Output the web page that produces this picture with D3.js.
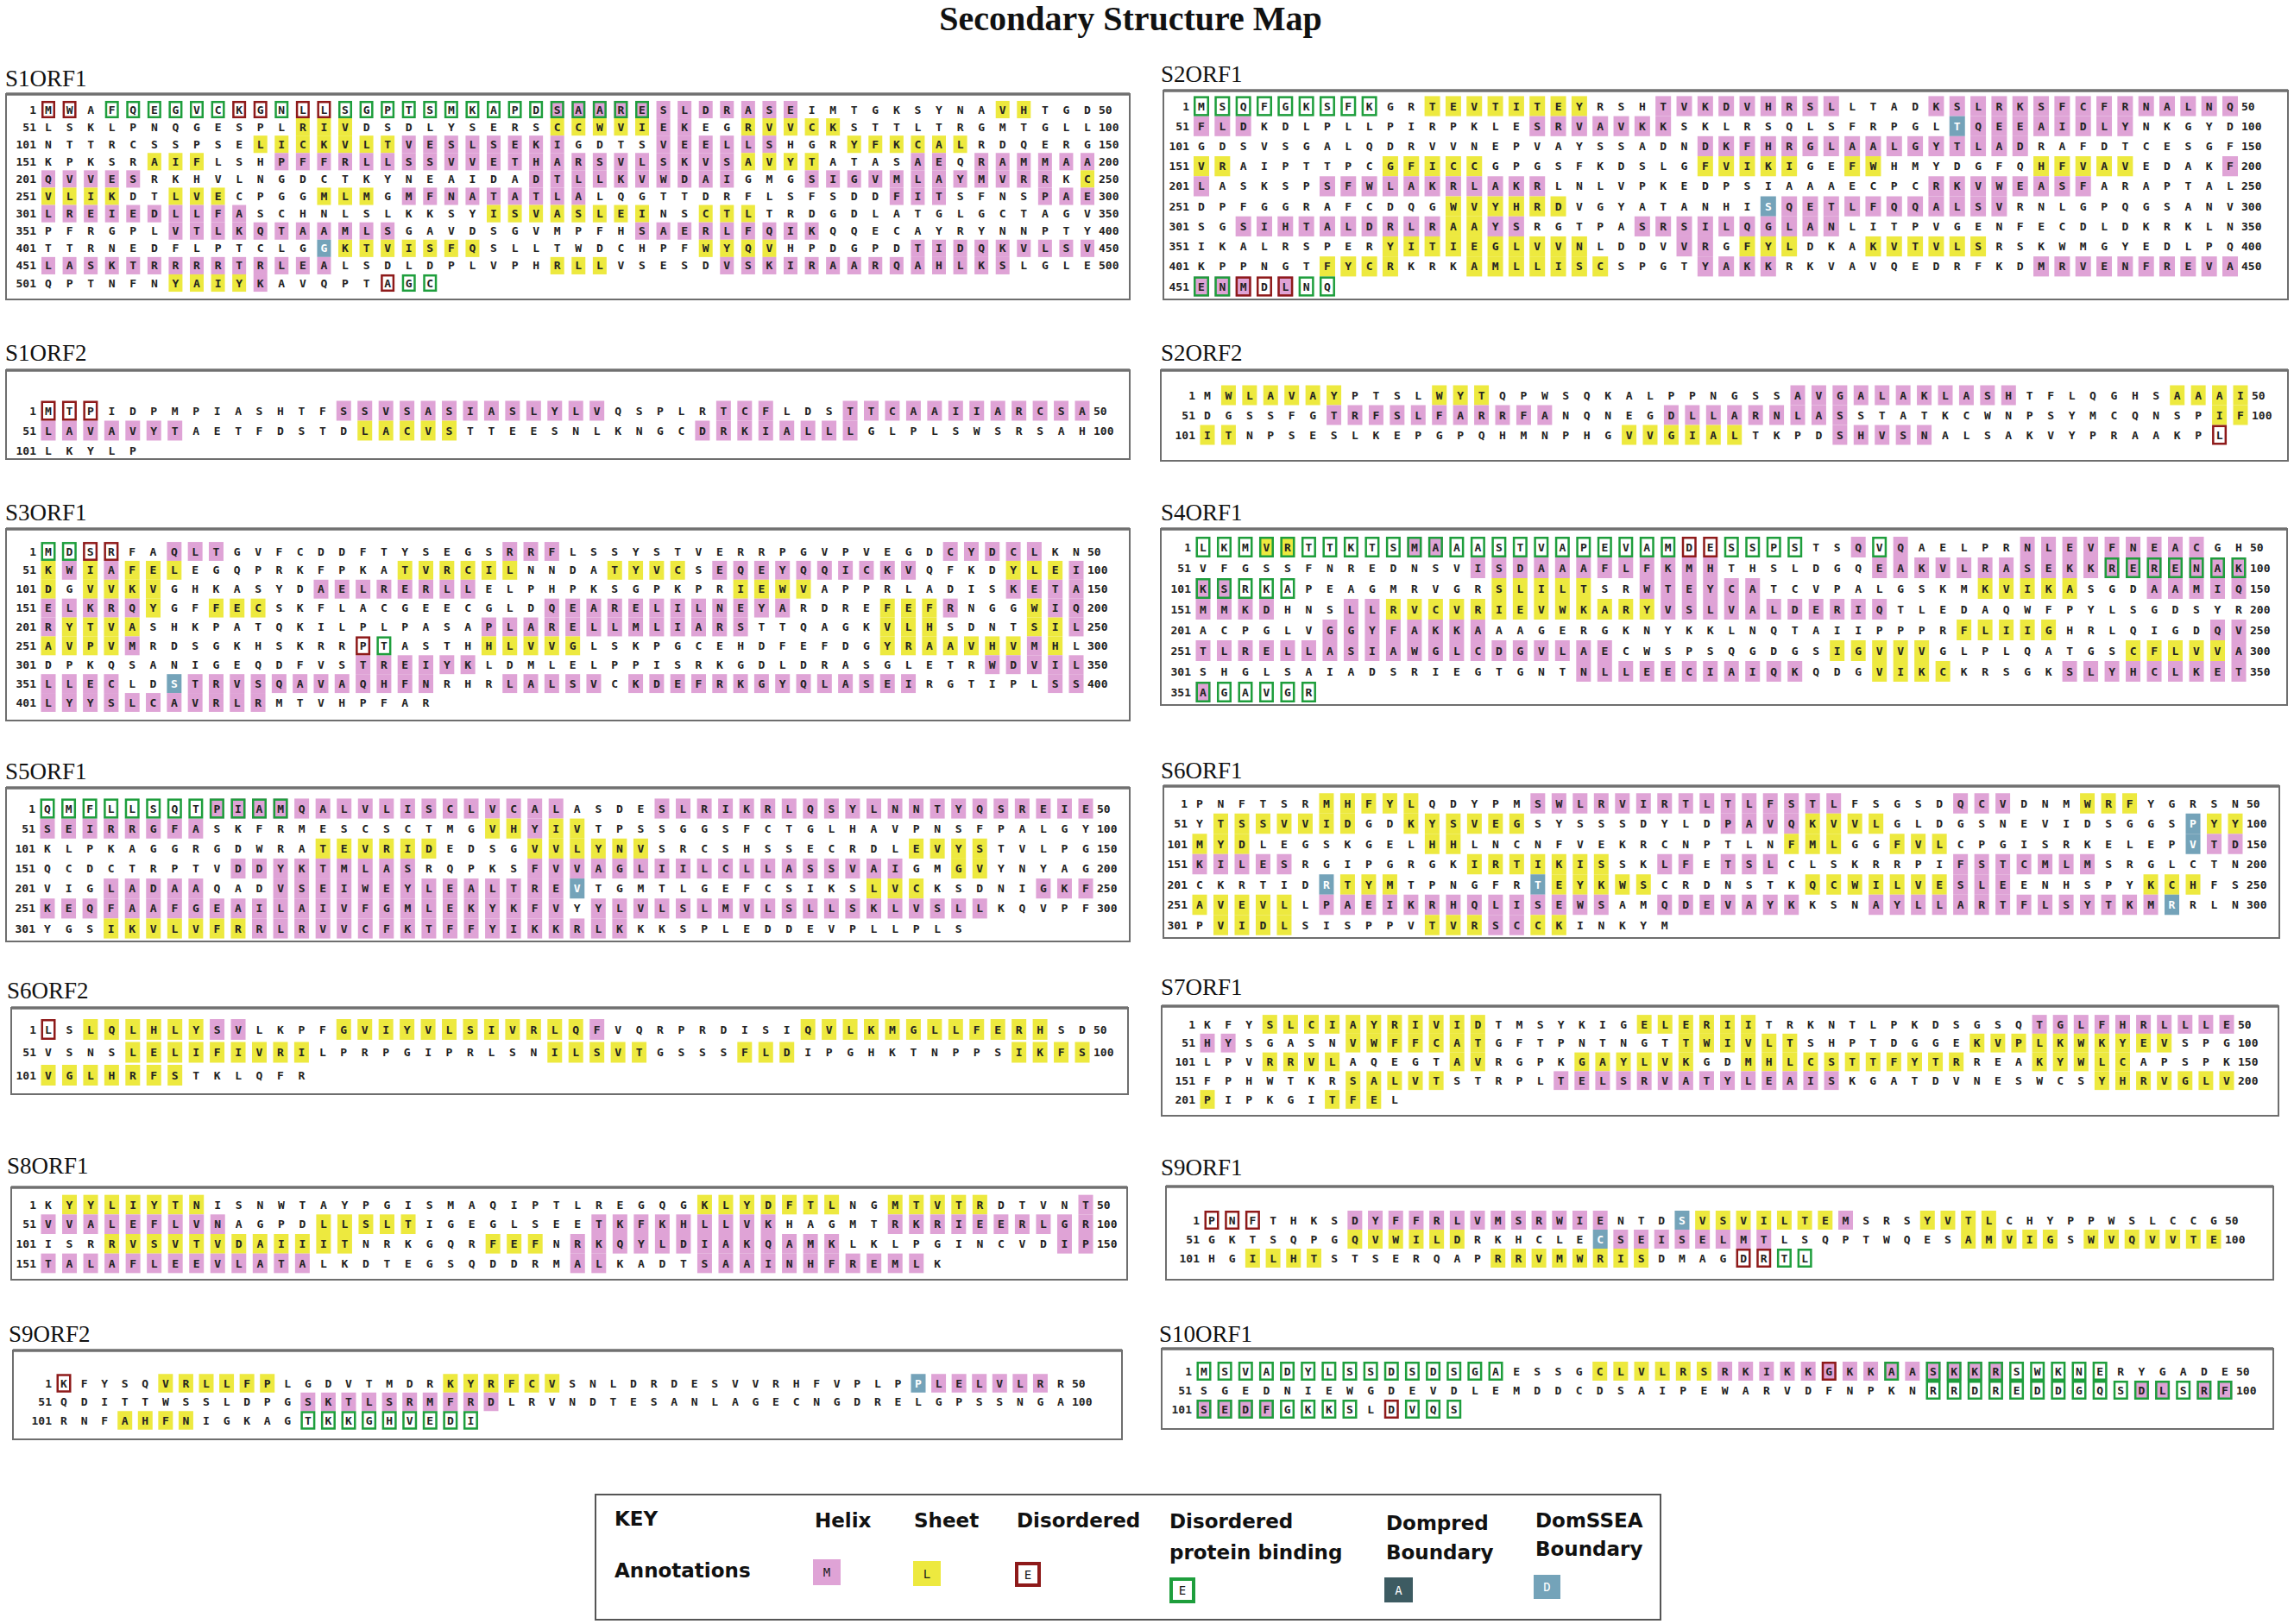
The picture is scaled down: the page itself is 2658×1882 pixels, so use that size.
<!DOCTYPE html>
<html><head><meta charset="utf-8">
<script src="https://cdn.jsdelivr.net/npm/d3@7"></script>
<style>body{margin:0;background:#fff}</style>
</head><body>
<svg id="chart" width="2658" height="1882"></svg>
<script>
// ---------------- DATA ----------------
// codes: . none, h helix, s sheet, d disordered (box), p disordered protein binding (box),
// x helix+protein binding, z helix+disordered, y sheet+protein binding, a Dompred boundary, b DomSSEA boundary
const S1ORF1_seq = [
"MWAFQEGVCK GNLLSGPTSM KAPDSAARES LDRASEIMTG KSYNAVHTGD",
"LSKLPNQGES PLRIVDSDLY SERSCCWVIE KEGRVVCKST TLTRGMTGLL",
"NTTRCSSPSE LICKVLTVES LSEKIGDTSV EELLSHGRYF KCALRDQERG",
"KPKSRAIFLS HPFFRLLSSV VETHARSVLS KVSAVYTATA SAEQRAMMAA",
"QVVESRKHVL NGDCTKYNEA IDADTLLKVW DAIGMGSIGV MLAYMVRRKC",
"VLIKDTLVEC PGGMLMGMFN ATATLALQGT TDRFLSFSDD FITSFNSPAE",
"LREIEDLLFA SCHNLSLKKS YISVASLEIN SCTLTRDGDL ATGLGCTAGV",
"PFRGPLVTLK QTAAMLSGAV DSGVMPFHSA ERLFQIKQQE CAYRYNNPTY",
"TTRNEDFLPT CLGGKTVISF QSLLTWDCHP FWYQVHPDGP DTIDQKVLSV",
"LASKTRRRRT RLEALSDLDP LVPHRLLVSE SDVSKIRAAR QAHLKSLGLE",
"QPTNFNYAIY KAVQPTAGC"];
const S1ORF1_ann = [
"dd.ppppppd dpddpppppp ppppxxxxxh hhhhhh.... .....ss...",
".......... ..sss..... ....sssssh h..sssss.. ..........",
".......... ssssssshhh hhhhh....h hhhhh...ss ssss......",
".....sss.. .hhhhhhhhh hhhhhhhhhh hhhssss... .hh.hhhhhh",
"hhhhh..... .......... ...hhhhhhh hhh...hhhh hhhhhhhh.s",
"ssss..sss. ...sss.hhh hhhhhh.... .......... hhh....hhh",
"hhhhhhhhhh .......... .ssssssss. .sss...... ..........",
"......hhhh hhhhhhh... ........hh hhhhhhh... ..........",
".......... ...bssssss s......... .ssss..... .hhhhhhhhh",
"hhhhhhhhhh hhhh...... ....sss... ..hhhhhhhh hhhhhh....",
"......ssss h.....dpp"];

const S2ORF1_seq = [
"MSQFGKSFKG RTEVTITEYR SHTVKDVHRS LLTADKSLRK SFCFRNALNQ",
"FLDKDLPLLP IRPKLESRVA VKKSKLRSQL SFRPGLTQEE AIDLYNKGYD",
"GDSVSGALQD RVVNEPVAYS SADNDKFHRG LAALGYTLAD RAFDTCESGF",
"VRAIPTTPCG FICCGPGSFK DSLGFVIKIG EFWHMYDGFQ HFVAVEDAKF",
"LASKSPSFWL AKRLAKRLNL VPKEDPSIAA AECPCRKVWE ASFARAPTAL",
"DPFGGRAFCD QGWVYHRDVG YATANHISQE TLFQQALSVR NLGPQGSANV",
"SGSIHTALDR LRAAYSRGTP ASRSILQGLA NLITPVGENF ECDLDKRKLN",
"IKALRSPERY ITIEGLVVNL DDVVRGFYLD KAKVTVLSRS KWMGYEDLPQ",
"KPPNGTFYCR KRKAMLLISC SPGTYAKKRK VAVQEDRFKD MRVENFREVA",
"ENMDLNQ"];
const S2ORF1_ann = [
"ppppppppp. .ssssssss. ..hhhhhhhh h....hhhhh hhhhhhhhhh",
"hhh....... ......hhhh hhh....... ......bhhh hhhhh.....",
".......... .......... ....hhhhhh hhhhhhhhhh ..........",
"ss.......s ssss...... ....sssss. .ss....... sssss....h",
"h.....hhhh hhhhhhh... .......... .....hhhhh hhh.......",
".......... ..ssssss.. .......bhh hhhhhhhhh. ..........",
"..hhhhhhhh hhsshh.... .hhhhhhhhh h......... ..........",
".........s sssssssss. ...hh.sss. ..ssssss.. ..........",
"......ssss ...sssssss ....hhhh.. .......... hhhhhhhhhh",
"xxzdzpp"];

const S1ORF2_seq = [
"MTPIDPMPIA SHTFSSVSAS IASLYLVQSP LRTCFLDSTT CAAIIARCSA",
"LAVAVYTAET FDSTDLACVS TTEESNLKNG CDRKIALLLG LPLSWSRSAH",
"LKYLP"];
const S1ORF2_ann = [
"ddd....... ....hhhhhh hhhhhhh... ..hhh...hh hhhhhhhhhh",
"hhhhhhh... .....sssss .......... .hhhhhhhh. ..........",
"....."];

const S2ORF2_seq = [
"MWLAVAYPTS LWYTQPWSQK ALPPNGSSAV GALAKLASHT FLQGHSAAAI",
"DGSSFGTRFS LFARRFANQN EGDLLARNLA SSTATKCWNP SYMCQNSPIF",
"ITNPSESLKE PGPQHMNPHG VVGIALTKPD SHVSNALSAK VYPRAAKPL"];
const S2ORF2_ann = [
".ssssss... .sss...... ........hh hhhhhhhhh. ......ssss",
"......hhhh hhhhhhh... ..hhhhhhhh h......... ........ss",
"ss........ .......... ssssss.... hhhhh..... ........d"];

const S3ORF1_seq = [
"MDSRFAQLTG VFCDDFTYSE GSRRFLSSYS TVERRPGVPV EGDCYDCLKN",
"KWIAFELEGQ PRKFPKATVR CILNNDATYV CSEQEYQQIC KVQFKDYLEI",
"DGVVKVGHKA SYDAELRERL LELPHPKSGP KPRIEWVAPP RLADISKETA",
"ELKRQYGFFE CSKFLACGEE CGLDQEAREL ILNEYARDRE FEFRNGGWIQ",
"RYTVASHKPA TQKILPLPAS APLARELLML IARSTTQAGK VLHSDNTSIL",
"AVPVMRDSGK HSKRRPTAST HHLVVGLSKP GCEHDFEFDG YRAAVHVMHL",
"DPKQSANIGE QDFVSTREIY KLDMLELPPI SRKGDLDRAS GLETRWDVIL",
"LLECLDSTRV SQAVAQHFNR HRLALSVCKD EFRKGYQLAS EIRGTIPLSS",
"LYYSLCAVRL RMTVHPFAR"];
const S3ORF1_ann = [
"ppdd..hhh. .......... ..hhh..... .......... ...hhhhh..",
"shshsss... .......sss sss....sss s.hhhhhhhh hh....sssh",
"s.ssss.... ...hhhhhhh h......... ...ssss... ......hhhh",
"hhhhhs..ss s......... ....hhhhhh hhhhhh.... sssh...shh",
"hssss..... .......... .hhhhhhhhh hhhh...... sss....ssh",
"ssssh..... .....dp... .sssss.... .......... ssssssshs.",
".......... .....hhhhh h......... .......... .....hhhhh",
"hhhh..bhhh hhhhhhhhh. ..hhhhh.hh hhhhhhhhhh hh......hh",
"hhhhhhhhhh h........"];

const S4ORF1_seq = [
"LKMVRTTKTS MAAASTVAPE VAMDESSPST SQVQAELPRN LEVFNEACGH",
"VFGSSFNRED NSVISDAAAF LFKMHTHSLD GQEAKVLRAS EKKRERENAK",
"KSRKAPEAGM RVGRSLILTS RWTEYCATCV PALGSKMKVI KASGDAAMIQ",
"MMKDHNSLLR VCVRIEVWKA RYVSLVALDE RIQTLEDAQW FPYLSGDSYR",
"ACPGLVGGYF AKKAAAGERG KNYKKLNQTA IIPPPRFLII GHRLQIGDQV",
"TLRELLASIA WGLCDGVLAE CWSPSQGDGS IGVVVGLPLQ ATGSCFLVVA",
"SHGLSAIADS RIEGTGNTNL LEECIAIQKQ DGVIKCKRSG KSLYHCLKET",
"AGAVGR"];
const S4ORF1_ann = [
"pppyyppppp xxpppppppp pppddpppp. .hph.....h hhhhhhhh..",
".......... ...hhhhhhh hhhhh..... ..hhhhhhhh hhhxxxxxxx",
"xxppp..... ....sssss. .hhhhhh... .......sss ss...hhhhh",
"hhhh...hhs ssssssssss sshhhhhhhh hhh....... ..........",
"......hhhh hhhh...... .......... ......ssss s.......hh",
"hhhhhhhhhh hhhhhhhhhh .......... sssss..... ....sssssh",
".......... ........hh hhhhhhhhh. ..ssss.... .hhhhhhhhh",
"xppppp"];

const S5ORF1_seq = [
"QMFLLSQTPI AMQALVLISC LVCALASDES LRIKRLQSYL NNTYQSREIE",
"SEIRRGFASK FRMESCSCTM GVHYIVTPSS GGSFCTGLHA VPNSFPALGY",
"KLPKAGGRGD WRATEVRIDE DSGVVLYNVS RCSHSSECRD LEVYSTVLPG",
"QCDCTRPTVD DYKTMLASRQ PKSFVVAGLI ILCLLASSVA IGMGVYNYAG",
"VIGLADAAQA DVSEIWEYLE ALTREVTGMT LGEFCSIKSL VCKSDNIGKF",
"KEQFAAFGEA ILAIVFGMLE KYKFVYYLVL SLMVLSLLSK LVSLLKQVPF",
"YGSIKVLVFR RLRVVCFKTF FYIKKRLKKK SPLEDDEVPL LPLS"];
const S5ORF1_ann = [
"ppppppppxx xxhhhhhhhh hhhhh....h hhhhhhhhhh hhhhhhhhhh",
"hhhhhhhh.. .......... .sshss.... .......... ..........",
".......... ...ssssss. ...ssssss. .......... .ssss.....",
".........h hhhhhhhh.. ...hhhhhhh hhhhhhhhhh h..ss.....",
"...hhhhh.. .hhhhhhhhh hhhhhb.... .........s ss.....hhh",
"hhhhhhhhhh hhhhhhhhhh hhhhh.hhhh hhhhhhhhhh hhhhh.....",
"...sssssss hhhhhhhhhh hhhhhhhh.. .......... ...."];

const S6ORF1_seq = [
"PNFTSRMHFY LQDYPMSWLR VIRTLTLFST LFSGSDQCVD NMWRFYGRSN",
"YTSSVVIDGD KYSVEGSYSS SDYLDPAVQK VVLGLDGSNE VIDSGGSPYY",
"MYDLEGSKGE LHHLNCNFVE KRCNPTLNFM LGGFVLCPGI SRKELEPVTD",
"KILESRGIPG RGKIRTIKIS SKLFETSLCL SKRRPIFSTC MLMSRGLCTN",
"CKRTIDRTYM TPNGFRTEYK WSCRDNSTKQ CWILVESLEE NHSPYKCHFS",
"AVEVLLPAEI KRHQLISEWS AMQDEVAYKK SNAYLLARTF LSYTKMRRLN",
"PVIDLSISPP VTVRSCCKIN KYM"];
const S6ORF1_ann = [
"......ssss s.....hhhh hhhhhhhhhh h.....hhh. ..sss.....",
".sssssss.. ssssss.... .....hhhhs sss....... .......bss",
"sss....... .ss....... ........ss s..sss.... .......bhh",
"hhhhh..... ...sssssss ..hh.hhh.. ......hhhh hhh.......",
"......bsss ......bsss ss.......s sssssshhh. .....sss..",
"sssss.hhhh hhhhhhhhhh ..hhhhhhh. ..hhhhhhhh hhhhhhb...",
".ssss..... .ssshhss.. ..."];

const S6ORF2_seq = [
"LSLQLHLYSV LKPFGVIYVL SIVRLQFVQR PRDISIQVLK MGLLFERHSD",
"VSNSLELIFI VRILPRPGIP RLSNILSVTG SSSFLDIPGH KTNPPSIKFS",
"VGLHRFSTKL QFR"];
const S6ORF2_ann = [
"d.sssssshh ....ssssss ssssssh... ......ssss ssssssss..",
"....ssssss sss....... ....sssss. ...sss.... ......ssss",
"sssssss... ..."];

const S7ORF1_seq = [
"KFYSLCIAYR IVIDTMSYKI GELERIITRK NTLPKDSGSQ TGLFHRLLLE",
"HYSGASNVWF FCATGFTPNT NGTTWIVLTS HPTDGGEKVP LKWKYEVSPG",
"LPVRRVLAQE GTAVRGPKGA YLVKGDMHLC STTFYTRREA KYWLCAPSPK",
"FPHWTKRSAL VTSTRPLTEL SRVATYLEAI SKGATDVNES WCSYHRVGLV",
"PIPKGITFEL"];
const S7ORF1_ann = [
"...sssssss ssss...... .ssssss... .......... hhhhhhhhhh",
"hh.....sss ssss...... ...ssssss. .......sss sssssss...",
"...ssss... ..ss....ss ssss..ssss sssssss... sssss.....",
".......sss ss.....hhh hhhhhhhhhh h......... ...sssssss",
"s.....sss."];

const S8ORF1_seq = [
"KYYLIYTNIS NWTAYPGISM AQIPTLREGQ GKLYDFTLNG MTVTRDTVNT",
"VVALEFLVNA GPDLLSLTIG EGLSEETKFK HLLVKHAGMT RKRIEERLGR",
"ISRRVSVTVD AIIITNRKGQ RFEFNRKQYL DIAKQAMKLK LPGINCVDIP",
"TALAFLEEVL ATALKDTEGS QDDRMALKAD TSAAINHFRE MLK"];
const S8ORF1_ann = [
".sssssss.. .......... .......... .sssssss.. sssss....h",
"hhhhhhhhh. ...sssss.. ......hhhh hhhhh..... hhhhhhhhhh",
"...sssssss sssss..... .sss.hhhhh hhhhhhhh.. ........hh",
"hhhhhhhhhh hhh....... .....hh... .hhhhhhhhh hh."];

const S9ORF1_seq = [
"PNFTHKSDYF FRLVMSRWIE NTDSVSVILT EMSRSYVTLC HYPPWSLCCG",
"GKTSQPGQVW ILDRKHCLEC SEISELMTLS QPTWQESAMV IGSWVQVVTE",
"HGILHTSTSE RQAPRRVMWR ISDMAGDRTL"];
const S9ORF1_ann = [
"ddd....hhh hhhhhhhhhh ...bssssss sh...ssss. ..........",
".......sss sss......b hhhhhhhh.. .......sss ss.sssssss",
"..ssss.... ....ssssss ss....ddpp"];

const S9ORF2_seq = [
"KFYSQVRLLF PLGDVTMDRK YRFCVSNLDR DESVVRHFVP LPPLELVLRR",
"QDITTWSSLD PGSKTLSRMF RDLRVNDTES ANLAGECNGD RELGPSSNGA",
"RNFAHFNIGK AGTKKGHVED I"];
const S9ORF2_ann = [
"d....sssss s........s sssss..... .......... ..bhhhhhh.",
".......... ..hhhhhhhh hh........ .......... ..........",
"...ssss... ..ppppppppp"];

const S10ORF1_seq = [
"MSVADYLSSD SDSGAESSGC LVLRSRKIKK GKKAASKKRS WKNERYGADE",
"SGEDNIEWGD EVDLEMDDCD SAIPEWARVD FNPKNRRDRE DDGQSDLSRF",
"SEDFGKKSLD VQS"];
const S10ORF1_ann = [
"pppppppppp ppppp....s ssssshhhhh zhhxhxxxxp pppp......",
".......... .......... .......... .....ppppp pppppxxpxx",
"xxxxpppp.d ppp"];

const titleText = "Secondary Structure Map";
const keyHeads = [["Helix"], ["Sheet"], ["Disordered"], ["Disordered", "protein binding"], ["Dompred", "Boundary"], ["DomSSEA", "Boundary"]];
const keyCodes = ["h", "s", "d", "p", "a", "b"];
const keyLetters = ["M", "L", "E", "E", "A", "D"];

const panels = [
  {name:"S1ORF1", seq:S1ORF1_seq, ann:S1ORF1_ann},
  {name:"S2ORF1", seq:S2ORF1_seq, ann:S2ORF1_ann},
  {name:"S1ORF2", seq:S1ORF2_seq, ann:S1ORF2_ann},
  {name:"S2ORF2", seq:S2ORF2_seq, ann:S2ORF2_ann},
  {name:"S3ORF1", seq:S3ORF1_seq, ann:S3ORF1_ann},
  {name:"S4ORF1", seq:S4ORF1_seq, ann:S4ORF1_ann},
  {name:"S5ORF1", seq:S5ORF1_seq, ann:S5ORF1_ann},
  {name:"S6ORF1", seq:S6ORF1_seq, ann:S6ORF1_ann},
  {name:"S6ORF2", seq:S6ORF2_seq, ann:S6ORF2_ann},
  {name:"S7ORF1", seq:S7ORF1_seq, ann:S7ORF1_ann},
  {name:"S8ORF1", seq:S8ORF1_seq, ann:S8ORF1_ann},
  {name:"S9ORF1", seq:S9ORF1_seq, ann:S9ORF1_ann},
  {name:"S9ORF2", seq:S9ORF2_seq, ann:S9ORF2_ann},
  {name:"S10ORF1", seq:S10ORF1_seq, ann:S10ORF1_ann}
];

// ---------------- LAYOUT ----------------
const layout = {
  S1ORF1:{lx:6, ly:100, bx:7, by:109, bw:1302, bh:238, x0:56, x1:1260, y0:127, y1:328, cw:16},
  S2ORF1:{lx:1345, ly:95, bx:1348, by:105, bw:1303, bh:242, x0:1392, x1:2584, y0:123, y1:332, cw:18},
  S1ORF2:{lx:6, ly:418, bx:7, by:429, bw:1302, bh:103, x0:56, x1:1254, y0:476, y1:522, cw:17},
  S2ORF2:{lx:1345, ly:418, bx:1345, by:429, bw:1306, bh:105, x0:1399, x1:2596, y0:458, y1:504, cw:17},
  S3ORF1:{lx:6, ly:603, bx:7, by:613, bw:1302, bh:222, x0:56, x1:1247, y0:639, y1:814, cw:17},
  S4ORF1:{lx:1345, ly:603, bx:1345, by:613, bw:1305, bh:204, x0:1394, x1:2594, y0:634, y1:802, cw:17},
  S5ORF1:{lx:6, ly:903, bx:7, by:913, bw:1302, bh:178, x0:55, x1:1258, y0:937, y1:1076, cw:17},
  S6ORF1:{lx:1345, ly:902, bx:1348, by:911, bw:1293, bh:176, x0:1390, x1:2590, y0:931, y1:1072, cw:17},
  S6ORF2:{lx:8, ly:1157, bx:13, by:1168, bw:1294, bh:100, x0:56, x1:1254, y0:1193, y1:1246, cw:17},
  S7ORF1:{lx:1345, ly:1153, bx:1346, by:1166, bw:1294, bh:127, x0:1399, x1:2580, y0:1187, y1:1274, cw:17},
  S8ORF1:{lx:8, ly:1360, bx:13, by:1376, bw:1293, bh:107, x0:56, x1:1258, y0:1396, y1:1464, cw:17},
  S9ORF1:{lx:1345, ly:1362, bx:1351, by:1375, bw:1283, bh:108, x0:1404, x1:2565, y0:1414, y1:1458, cw:17},
  S9ORF2:{lx:10, ly:1555, bx:15, by:1565, bw:1285, bh:103, x0:74, x1:1229, y0:1603, y1:1646, cw:17},
  S10ORF1:{lx:1343, ly:1555, bx:1346, by:1563, bw:1288, bh:93, x0:1395, x1:2578, y0:1589, y1:1633, cw:17}
};

const COL = {h:"#dfa3d6", s:"#ede93f", d:"#8e1a1a", p:"#1e9e3c", a:"#3d5b62", b:"#74a3b9"};
const fillOf = c => ({h:COL.h, x:COL.h, z:COL.h, s:COL.s, y:COL.s, a:COL.a, b:COL.b})[c] || null;
const strokeOf = c => ({d:COL.d, z:COL.d, p:COL.p, x:COL.p, y:COL.p})[c] || null;
const clean = s => s.replace(/ /g, "");
const MONO = "'DejaVu Sans Mono', 'Liberation Mono', monospace";

const svg = d3.select("#chart");
svg.append("rect").attr("width", 2658).attr("height", 1882).attr("fill", "#fff");

svg.append("text").attr("x", 1310).attr("y", 35).attr("text-anchor", "middle")
  .style("font-family", "'Liberation Serif', 'Times New Roman', serif")
  .style("font-weight", "bold").style("font-size", "40px").attr("fill", "#111")
  .text(titleText);

panels.forEach(p => {
  const L = layout[p.name];
  const seq = p.seq.map(clean), ann = p.ann.map(clean);
  const g = svg.append("g");
  const x = d3.scaleLinear().domain([0, 49]).range([L.x0, L.x1]);
  const y = d3.scaleLinear().domain([0, seq.length - 1]).range([L.y0, L.y1]);
  const rstep = y(1) - y(0);
  const cw = L.cw, ch = Math.min(rstep, 24);

  g.append("text").attr("x", L.lx).attr("y", L.ly)
    .style("font-family", "'Liberation Serif', 'Times New Roman', serif")
    .style("font-size", "27px").attr("fill", "#111").text(p.name);

  g.append("rect").attr("x", L.bx).attr("y", L.by).attr("width", L.bw).attr("height", L.bh)
    .attr("fill", "none").attr("stroke", "#6e6e6e").attr("stroke-width", 2);
  g.append("line").attr("x1", L.bx).attr("x2", L.bx + L.bw).attr("y1", L.by).attr("y2", L.by)
    .attr("stroke", "#707070").attr("stroke-width", 3.5);

  const cells = [];
  seq.forEach((s, r) => {
    for (let i = 0; i < s.length; i++) cells.push({r, i, ch: s[i], code: (ann[r] || "")[i] || "."});
  });

  g.selectAll("rect.fill").data(cells.filter(d => fillOf(d.code))).enter().append("rect")
    .attr("class", "fill")
    .attr("x", d => x(d.i) - cw / 2).attr("y", d => y(d.r) - ch / 2)
    .attr("width", cw).attr("height", ch).attr("fill", d => fillOf(d.code));

  g.selectAll("rect.box").data(cells.filter(d => strokeOf(d.code))).enter().append("rect")
    .attr("class", "box")
    .attr("x", d => x(d.i) - cw / 2 + 1.25).attr("y", d => y(d.r) - ch / 2 + 1.25)
    .attr("width", cw - 2.5).attr("height", ch - 2.5)
    .attr("fill", "none").attr("stroke", d => strokeOf(d.code)).attr("stroke-width", 2.5);

  g.selectAll("text.res").data(cells).enter().append("text")
    .attr("class", "res")
    .attr("x", d => x(d.i)).attr("y", d => y(d.r) + 4.5)
    .attr("text-anchor", "middle")
    .style("font-family", MONO).style("font-size", "13px").style("font-weight", "bold")
    .attr("fill", d => (d.code === "a" || d.code === "b") ? "#fff" : "#222")
    .text(d => d.ch);

  g.selectAll("text.lnum").data(seq).enter().append("text")
    .attr("class", "lnum")
    .attr("x", L.x0 - 14).attr("y", (d, r) => y(r) + 4.5).attr("text-anchor", "end")
    .style("font-family", MONO).style("font-size", "13px").style("font-weight", "bold").attr("fill", "#222")
    .text((d, r) => r * 50 + 1);

  g.selectAll("text.rnum").data(seq.map((s, r) => ({s, r})).filter(d => d.s.length === 50)).enter().append("text")
    .attr("class", "rnum")
    .attr("x", L.x1 + 13).attr("y", d => y(d.r) + 4.5)
    .style("font-family", MONO).style("font-size", "13px").style("font-weight", "bold").attr("fill", "#222")
    .text(d => (d.r + 1) * 50);
});

// ---------------- KEY ----------------
const key = svg.append("g");
const SANS = "'DejaVu Sans', Verdana, sans-serif";
key.append("rect").attr("x", 690).attr("y", 1732).attr("width", 1234).attr("height", 145)
  .attr("fill", "none").attr("stroke", "#555").attr("stroke-width", 2);
key.append("text").attr("x", 712).attr("y", 1768).style("font-family", SANS).style("font-weight", "bold")
  .style("font-size", "23px").attr("fill", "#111").text("KEY");
key.append("text").attr("x", 712).attr("y", 1828).style("font-family", SANS).style("font-weight", "bold")
  .style("font-size", "23px").attr("fill", "#111").text("Annotations");

const keyX = [944, 1059, 1178, 1355, 1606, 1779];
const keyHeadY = [[1770], [1770], [1770], [1771, 1807], [1773, 1807], [1770, 1803]];
const keySw = [[942, 1807, 32, 30], [1058, 1809, 32, 29], [1176, 1810, 30, 29], [1355, 1828, 30, 30], [1604, 1828, 33, 29], [1777, 1825, 31, 28]];

keyHeads.forEach((lines, k) => {
  lines.forEach((t, j) => {
    key.append("text").attr("x", keyX[k]).attr("y", keyHeadY[k][j])
      .style("font-family", SANS).style("font-weight", "bold").style("font-size", "23px")
      .attr("fill", "#111").text(t);
  });
  const [sx, sy, sw, sh] = keySw[k];
  const c = keyCodes[k];
  if (fillOf(c)) key.append("rect").attr("x", sx).attr("y", sy).attr("width", sw).attr("height", sh).attr("fill", fillOf(c));
  if (strokeOf(c)) key.append("rect").attr("x", sx + 2).attr("y", sy + 2).attr("width", sw - 4).attr("height", sh - 4)
    .attr("fill", "none").attr("stroke", strokeOf(c)).attr("stroke-width", 4);
  key.append("text").attr("x", sx + sw / 2).attr("y", sy + sh / 2 + 5).attr("text-anchor", "middle")
    .style("font-family", MONO).style("font-size", "14px")
    .attr("fill", (c === "a" || c === "b") ? "#fff" : "#1a1a1a").text(keyLetters[k]);
});
</script>
</body></html>
